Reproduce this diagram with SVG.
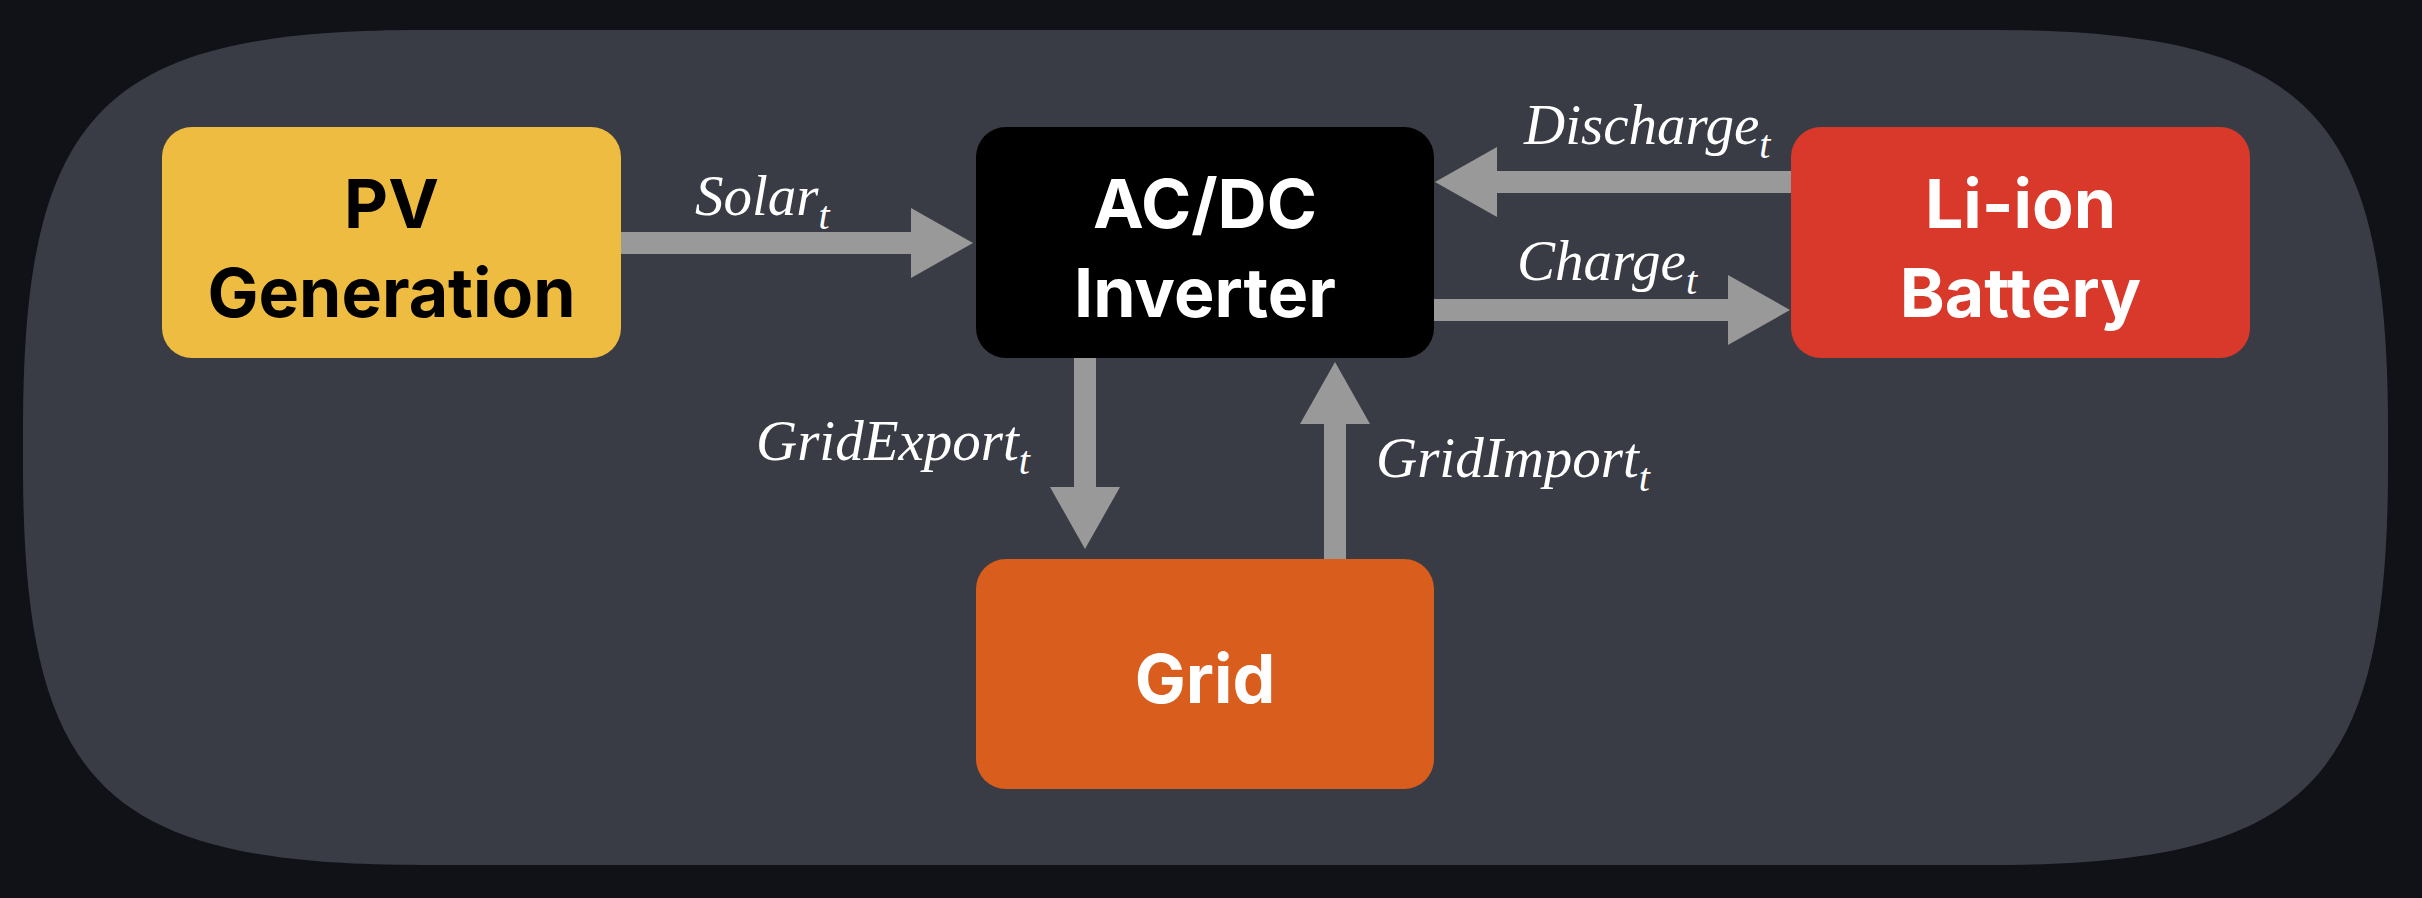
<svg xmlns="http://www.w3.org/2000/svg" width="2422" height="898" viewBox="0 0 2422 898">
  <defs>
    <style>
      .node-label { font-family: Inter, "Liberation Sans", sans-serif; font-weight: 700; font-size: 68px; text-anchor: middle; }
      .edge-label { font-family: "Liberation Serif", "DejaVu Serif", serif; font-style: italic; font-size: 57px; fill: #ffffff; }
      .sub { font-size: 40px; }
      .flow { stroke: #999999; stroke-width: 22; fill: none; marker-end: url(#head); }
    </style>
    <marker id="head" markerUnits="userSpaceOnUse" markerWidth="62" markerHeight="70" refX="0" refY="35" orient="auto" viewBox="0 0 62 70">
      <path d="M0,0 L62,35 L0,70 Z" fill="#999999"/>
    </marker>
  </defs>

  <rect x="0" y="0" width="2422" height="898" fill="#111218"/>
  <path id="panel" d="M23,430 C23,110 103,30 423,30 L1988,30 C2308,30 2388,110 2388,430 L2388,465 C2388,785 2308,865 1988,865 L423,865 C103,865 23,785 23,465 Z" fill="#3a3c45"/>

  <g id="connectors">
    <line class="flow" x1="621" y1="243" x2="911" y2="243"/>
    <line class="flow" x1="1792" y1="182" x2="1497" y2="182"/>
    <line class="flow" x1="1434" y1="310" x2="1728" y2="310"/>
    <line class="flow" x1="1085" y1="358" x2="1085" y2="487"/>
    <line class="flow" x1="1335" y1="559" x2="1335" y2="424"/>
    <text class="edge-label" x="695" y="215">Solar<tspan class="sub" dy="14">t</tspan></text>
    <text class="edge-label" x="1524" y="144">Discharge<tspan class="sub" dy="14">t</tspan></text>
    <text class="edge-label" x="1517" y="280">Charge<tspan class="sub" dy="14">t</tspan></text>
    <text class="edge-label" x="756" y="460">GridExport<tspan class="sub" dy="14">t</tspan></text>
    <text class="edge-label" x="1376" y="477">GridImport<tspan class="sub" dy="14">t</tspan></text>
  </g>

  <g id="pv">
    <rect x="162" y="127" width="459" height="231" rx="30" fill="#eebc40"/>
    <text class="node-label" fill="#000000" x="391.5" y="228">PV</text>
    <text class="node-label" fill="#000000" x="391.5" y="317">Generation</text>
  </g>

  <g id="inverter">
    <rect x="976" y="127" width="458" height="231" rx="30" fill="#000000"/>
    <text class="node-label" fill="#ffffff" x="1205" y="228">AC/DC</text>
    <text class="node-label" fill="#ffffff" x="1205" y="317">Inverter</text>
  </g>

  <g id="battery">
    <rect x="1791" y="127" width="459" height="231" rx="30" fill="#d9392a"/>
    <text class="node-label" fill="#ffffff" x="2020.5" y="228">Li-ion</text>
    <text class="node-label" fill="#ffffff" x="2020.5" y="317">Battery</text>
  </g>

  <g id="grid">
    <rect x="976" y="559" width="458" height="230" rx="30" fill="#d95d1d"/>
    <text class="node-label" fill="#ffffff" x="1205" y="703">Grid</text>
  </g>
</svg>
